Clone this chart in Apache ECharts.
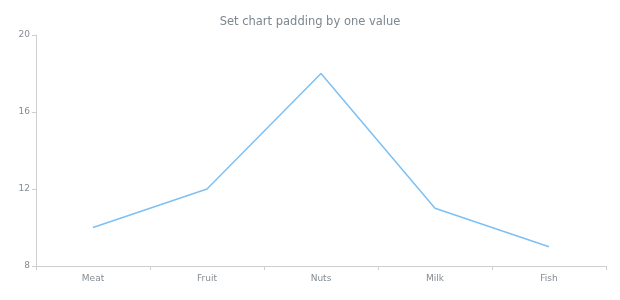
<!DOCTYPE html>
<html><head><meta charset="utf-8">
<script src="https://cdn.jsdelivr.net/npm/echarts@6/dist/echarts.min.js"></script>
<style>html,body{margin:0;padding:0;background:#fff}#c{width:620px;height:300px}</style>
</head><body><div id="c"></div>
<script>
const categories = ['Meat', 'Fruit', 'Nuts', 'Milk', 'Fish'];
const values = [10, 12, 18, 11, 9];
const yTicks = [8, 12, 16, 20];

const chart = echarts.init(document.getElementById('c'), null, {renderer: 'canvas'});
chart.setOption({
  animation: false,
  backgroundColor: '#ffffff',
  title: {
    text: 'Set chart padding by one value',
    left: 'center', top: 11,
    textStyle: {fontFamily: 'DejaVu Sans', fontSize: 11.5, fontWeight: 'normal', color: '#7c868e'}
  },
  grid: {left: 36, right: 14, top: 35, bottom: 34, containLabel: false},
  xAxis: {
    type: 'category', data: categories, boundaryGap: true,
    axisLine: {lineStyle: {color: '#cecece'}},
    axisTick: {show: true, length: 4, lineStyle: {color: '#cecece'}},
    axisLabel: {fontFamily: 'DejaVu Sans', fontSize: 9, color: '#858c93', margin: 8}
  },
  yAxis: {
    type: 'value', min: yTicks[0], max: yTicks[yTicks.length - 1], interval: 4,
    axisLine: {show: true, lineStyle: {color: '#cecece'}},
    axisTick: {show: true, length: 4, lineStyle: {color: '#cecece'}},
    splitLine: {show: false},
    axisLabel: {fontFamily: 'DejaVu Sans', fontSize: 9, color: '#858c93', margin: 6}
  },
  series: [{
    type: 'line', data: values, showSymbol: false, symbol: 'none',
    lineStyle: {color: '#7cc0f5', width: 1.5}
  }]
});
</script></body></html>
